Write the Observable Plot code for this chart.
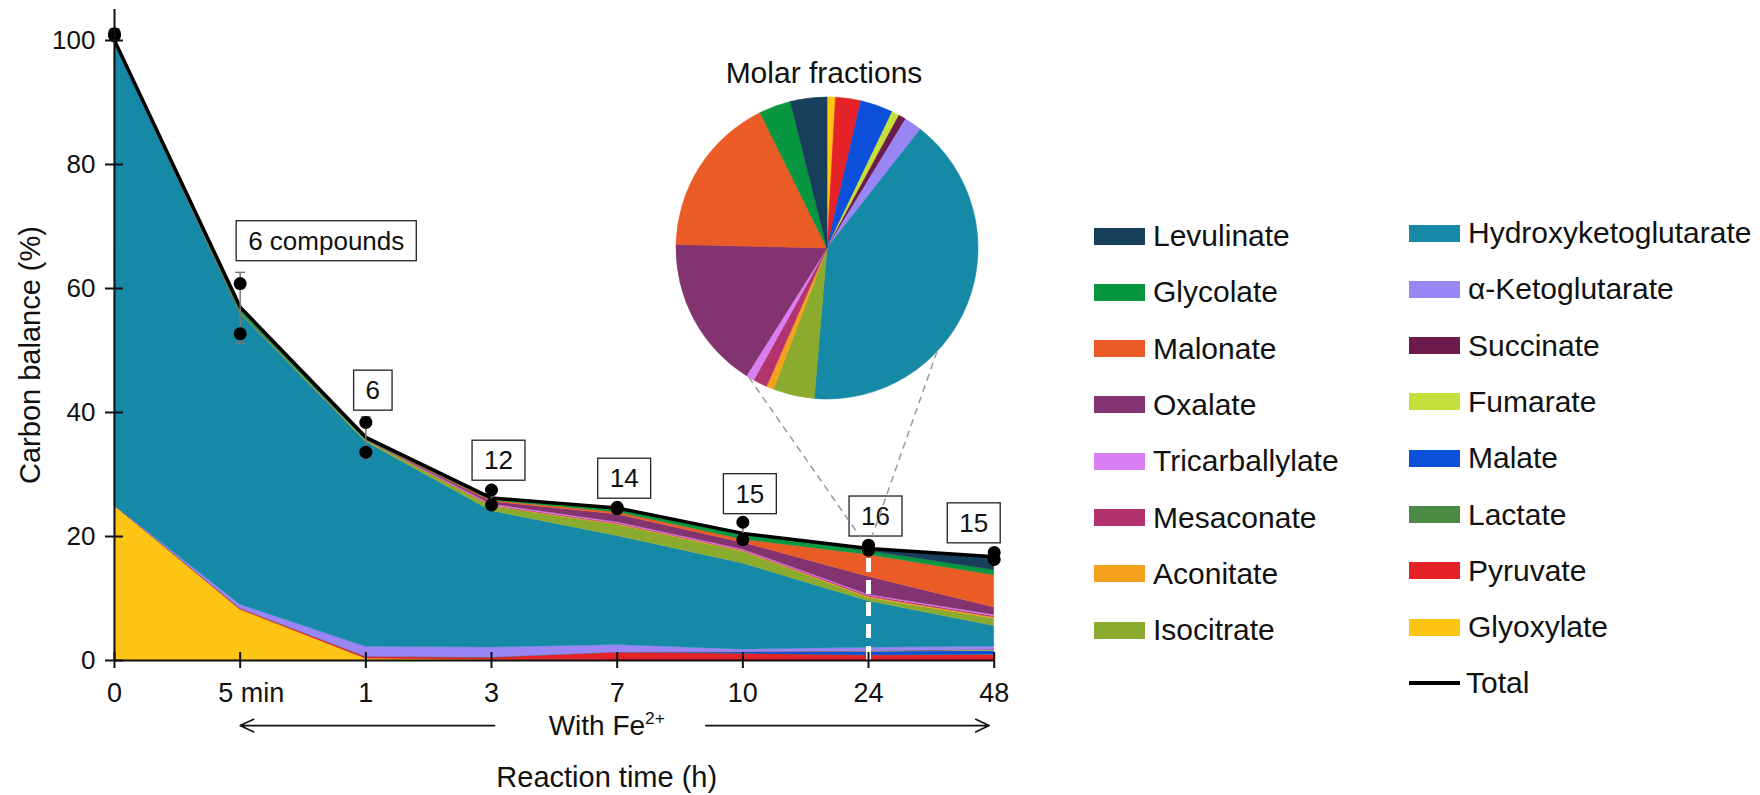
<!DOCTYPE html>
<html>
<head>
<meta charset="utf-8">
<script src="https://cdn.jsdelivr.net/npm/d3@7"></script>
<script src="https://cdn.jsdelivr.net/npm/@observablehq/plot@0.6"></script>
<style>
  html, body { margin: 0; padding: 0; background: #fff; }
  body { font-family: "Liberation Sans", Arial, Helvetica, sans-serif; color: #111; }
  #wrap { position: relative; width: 1760px; height: 795px; overflow: hidden; }
  #chart { position: absolute; left: 0; top: 0; }
  .lg { position: absolute; height: 0; display: flex; align-items: center; font-size: 30px; white-space: nowrap; }
  .lg .sw { width: 51px; height: 17px; margin-right: 8px; flex: none; }
  .lg .ln { width: 51px; height: 4px; background: #000; margin-right: 6px; flex: none; }
</style>
</head>
<body>
<div id="wrap"><div id="chart"></div></div>
<script>
// ---------------- data ----------------
const timeLabels = ["0", "5 min", "1", "3", "7", "10", "24", "48"];

// stacking order, bottom to top
const compounds = ["Glyoxylate", "Pyruvate", "Lactate", "Malate", "Fumarate", "Succinate",
  "α-Ketoglutarate", "Hydroxyketoglutarate", "Isocitrate", "Aconitate", "Mesaconate",
  "Tricarballylate", "Oxalate", "Malonate", "Glycolate", "Levulinate"];
const colors = ["#fdc414", "#e52228", "#4d8a45", "#0b4fdb", "#c6e03b", "#6c1b4b",
  "#9a85f4", "#1689a7", "#8aab2d", "#f6a020", "#b3336f",
  "#d97ff2", "#833470", "#eb5b25", "#089640", "#173f5c"];

// carbon balance (%) of each compound at each reaction time
const glyoxylate           = [25, 8.2, 0.3, 0.1, 0, 0, 0, 0];
const pyruvate             = [0, 0.2, 0.3, 0.4, 1.3, 1.1, 0.8, 0.9];
const lactate              = [0, 0, 0, 0, 0, 0, 0.05, 0.05];
const malate               = [0, 0, 0, 0, 0, 0.25, 0.55, 0.6];
const fumarate             = [0, 0, 0, 0, 0, 0, 0.05, 0.1];
const succinate            = [0, 0, 0, 0, 0, 0, 0.05, 0.1];
const aKetoglutarate       = [0, 0.6, 1.6, 1.6, 1.2, 0.4, 0.55, 0.5];
const hydroxyketoglutarate = [75, 47, 33.1, 22.0, 17.6, 13.9, 7.5, 3.3];
const isocitrate           = [0, 0.2, 0.3, 0.75, 1.8, 1.9, 0.55, 1.2];
const aconitate            = [0, 0, 0, 0.05, 0.1, 0.1, 0.15, 0.2];
const mesaconate           = [0, 0, 0, 0.1, 0.15, 0.1, 0.2, 0.2];
const tricarballylate      = [0, 0, 0, 0.2, 0.15, 0.15, 0.15, 0.2];
const oxalate              = [0, 0, 0, 0.4, 1.25, 1.1, 2.9, 1.2];
const malonate             = [0, 0, 0, 0.2, 0.35, 0.5, 3.5, 5.2];
const glycolate            = [0, 0.8, 0.4, 0.4, 0.7, 0.9, 0.65, 0.8];
const levulinate           = [0, 0, 0, 0, 0, 0.1, 0.4, 2.2];

// replicate measurements of total carbon balance and error-bar extents
const rep1    = [101.1, 60.8, 38.4, 27.5, 24.7, 22.3, 18.6, 17.4];
const rep2    = [100.8, 52.7, 33.6, 25.1, 24.5, 19.5, 17.8, 16.3];
const errLow  = [100.2, 51.2, 32.6, 24.6, 24.2, 19.0, 17.4, 15.9];
const errHigh = [101.9, 62.6, 39.3, 28.0, 25.1, 22.6, 19.0, 17.9];

// number of compounds detected
const compoundCounts = ["", "6 compounds", "6", "12", "14", "15", "16", "15"];

// molar fractions at 24 h (%), same order as compounds
const molarFractions = [0.9, 2.7, 0, 3.5, 0.8, 0.8, 1.9, 40.7, 4.4, 0.8, 1.5, 0.9, 16.4, 17.3, 3.4, 3.9];

// ---------------- build ----------------
const ns = "http://www.w3.org/2000/svg";
const fontFamily = '"Liberation Sans", Arial, Helvetica, sans-serif';
const colorOf = new Map(compounds.map((c, k) => [c, colors[k]]));
const series = [glyoxylate, pyruvate, lactate, malate, fumarate, succinate, aKetoglutarate,
  hydroxyketoglutarate, isocitrate, aconitate, mesaconate, tricarballylate, oxalate, malonate,
  glycolate, levulinate];
const rows = compounds.flatMap((c, k) => series[k].map((v, i) => ({t: i, compound: c, value: v})));
const totals = timeLabels.map((_, i) => d3.sum(series, s => s[i]));
const totalRows = totals.map((v, i) => ({t: i, v}));
const reps = timeLabels.flatMap((_, i) => [{t: i, v: rep1[i]}, {t: i, v: rep2[i]}]);
const errs = timeLabels.map((_, i) => ({t: i, lo: errLow[i], hi: errHigh[i]}));
const labelRows = compoundCounts.map((s, i) => ({t: i, text: s, top: errHigh[i]})).filter(d => d.text);
const i24 = timeLabels.indexOf("24");
const lastT = timeLabels.length - 1;

const capSymbol = {draw(ctx, size) { const w = Math.sqrt(size / Math.PI); ctx.moveTo(-w, 0); ctx.lineTo(w, 0); }};

function pieInset(index, scales) {
  const cx = 827, cy = 248, R = 151;
  const g = d3.create("svg:g").attr("class", "pie-inset");
  const arcs = d3.pie().sort(null).value(d => d.v)(compounds.map((c, k) => ({c, v: molarFractions[k]})));
  const arc = d3.arc().innerRadius(0).outerRadius(R);
  g.append("g").attr("transform", `translate(${cx},${cy})`)
    .selectAll("path").data(arcs.filter(a => a.data.v > 0)).join("path")
    .attr("d", arc).attr("fill", a => colorOf.get(a.data.c))
    .attr("stroke", a => colorOf.get(a.data.c)).attr("stroke-width", 0.6);
  g.append("text").attr("x", cx - 3).attr("y", cy - R - 14).attr("text-anchor", "middle")
    .attr("font-size", 30).attr("fill", "#111").text("Molar fractions");
  const px = scales.x(i24), py = scales.y(totals[i24]);
  const a0 = Math.atan2(px - cx, -(py - cy));
  for (const off of [-39, 39]) {
    const a = a0 + off * Math.PI / 180;
    const sx = cx + R * Math.sin(a), sy = cy - R * Math.cos(a);
    const L = Math.hypot(sx - px, sy - py);
    const ex = px + (sx - px) * 13 / L, ey = py + (sy - py) * 13 / L;
    g.append("line").attr("x1", sx).attr("y1", sy).attr("x2", ex).attr("y2", ey)
      .attr("stroke", "#9a9a9a").attr("stroke-width", 1.5).attr("stroke-dasharray", "7,5");
  }
  return g.node();
}

const firstL = labelRows.slice(0, 1), midL = labelRows.slice(1, -1), lastL = labelRows.slice(-1);
const labelOpts = {x: "t", y: "top", text: "text", dy: -26, fontSize: 26, fill: "#111"};

const annot = [{x: 3.917, y: -10.5, text: "With Fe"}];
const arrows = [{x1: 3.025, x2: 1, y: -10.5}, {x1: 4.705, x2: 6.96, y: -10.5}];
const xTitle = [{x: 3.917, y: -18.9, text: "Reaction time (h)"}];

const chart = Plot.plot({
  width: 1060, height: 795,
  marginLeft: 114, marginRight: 66.3, marginTop: 9, marginBottom: 135,
  x: {domain: [0, lastT], label: null},
  y: {domain: [0, 105], label: null},
  color: {domain: compounds, range: colors},
  style: {fontFamily, fontSize: "26px", color: "#111", background: "#fff", overflow: "visible"},
  marks: [
    Plot.areaY(rows, {x: "t", y: "value", fill: "compound", stroke: "compound", strokeWidth: 0.4, order: compounds}),
    Plot.ruleX([i24], {y1: 0, y2: totals[i24], stroke: "#fff", strokeWidth: 5, strokeDasharray: "14,8"}),
    Plot.line(totalRows, {x: "t", y: "v", stroke: "#000", strokeWidth: 3.5}),
    Plot.ruleX(errs, {x: "t", y1: "lo", y2: "hi", stroke: "#777", strokeWidth: 1.5}),
    Plot.dot(errs, {x: "t", y: "lo", symbol: capSymbol, r: 5, stroke: "#777", strokeWidth: 1.5, fill: "none"}),
    Plot.dot(errs, {x: "t", y: "hi", symbol: capSymbol, r: 5, stroke: "#777", strokeWidth: 1.5, fill: "none"}),
    Plot.dot(reps, {x: "t", y: "v", r: 6.5, fill: "#000"}),
    Plot.ruleX([0], {y1: 0, y2: 105, stroke: "#111", strokeWidth: 2}),
    Plot.ruleY([0], {x1: 0, x2: lastT, stroke: "#111", strokeWidth: 2}),
    Plot.axisX({ticks: d3.range(timeLabels.length), tickFormat: i => timeLabels[i], tickSize: 16, dy: -8,
      tickPadding: 14, strokeWidth: 2, label: null, fontSize: 27}),
    Plot.axisY({ticks: d3.range(0, 101, 20), tickSize: 18, dx: 9, tickPadding: 10, strokeWidth: 2,
      label: null, fontSize: 26}),
    Plot.text(["Carbon balance (%)"], {frameAnchor: "left", textAnchor: "middle", dx: -84, dy: 20, rotate: -90, fontSize: 29, fill: "#111"}),
    Plot.text(firstL, {...labelOpts, textAnchor: "start", dx: 8, dy: -31}),
    Plot.text(midL, {...labelOpts, textAnchor: "middle", dx: 7}),
    Plot.text(lastL, {...labelOpts, textAnchor: "end", dx: -6}),
    Plot.arrow(arrows, {x1: "x1", x2: "x2", y1: "y", y2: "y", stroke: "#111", strokeWidth: 1.6, headLength: 14, headAngle: 50}),
    Plot.text(annot, {x: "x", y: "y", text: "text", fontSize: 28, fill: "#111"}),
    Plot.text(xTitle, {x: "x", y: "y", text: "text", fontSize: 29, fill: "#111"}),
    pieInset
  ]
});

document.getElementById("chart").appendChild(chart);

const countSet = new Set(labelRows.map(d => d.text));
chart.querySelectorAll('g[aria-label="text"] text').forEach(t => {
  const content = t.textContent;
  if (countSet.has(content)) {
    // boxes around compound-count labels
    const b = t.getBBox();
    const r = document.createElementNS(ns, "rect");
    r.setAttribute("x", b.x - 12);
    r.setAttribute("y", b.y + b.height / 2 - 20);
    r.setAttribute("width", b.width + 24);
    r.setAttribute("height", 40);
    if (t.getAttribute("transform")) r.setAttribute("transform", t.getAttribute("transform"));
    r.setAttribute("fill", "#fff");
    r.setAttribute("stroke", "#222");
    r.setAttribute("stroke-width", 1.3);
    t.parentNode.insertBefore(r, t);
  } else if (content === "With Fe") {
    // superscript for Fe2+
    const s = document.createElementNS(ns, "tspan");
    s.setAttribute("dy", "-0.6em");
    s.setAttribute("font-size", "0.62em");
    s.textContent = "2+";
    t.appendChild(s);
  }
});
// "5 min" label sits slightly right of its tick
chart.querySelectorAll('g[aria-label="x-axis tick label"] text').forEach(t => {
  if (t.textContent === "5 min") t.setAttribute("dx", 11);
});
// pie inset above everything so connectors cross label boxes
const pie = chart.querySelector("g.pie-inset");
if (pie) chart.appendChild(pie);

// legend
const wrap = document.getElementById("wrap");
const legendOrder = compounds.slice().reverse();
legendOrder.forEach((c, j) => {
  const col = j < 8 ? 0 : 1, row = j % 8;
  const el = document.createElement("div");
  el.className = "lg";
  el.style.left = (col ? 1409 : 1094) + "px";
  el.style.top = ((col ? 233 : 236) + row * 56.3) + "px";
  const sw = document.createElement("span");
  sw.className = "sw"; sw.style.background = colorOf.get(c);
  const tx = document.createElement("span"); tx.textContent = c;
  el.appendChild(sw); el.appendChild(tx);
  wrap.appendChild(el);
});
{
  const el = document.createElement("div");
  el.className = "lg";
  el.style.left = "1409px";
  el.style.top = (233 + 8 * 56.3) + "px";
  const ln = document.createElement("span"); ln.className = "ln";
  const tx = document.createElement("span"); tx.textContent = "Total";
  el.appendChild(ln); el.appendChild(tx);
  wrap.appendChild(el);
}
</script>
</body>
</html>
